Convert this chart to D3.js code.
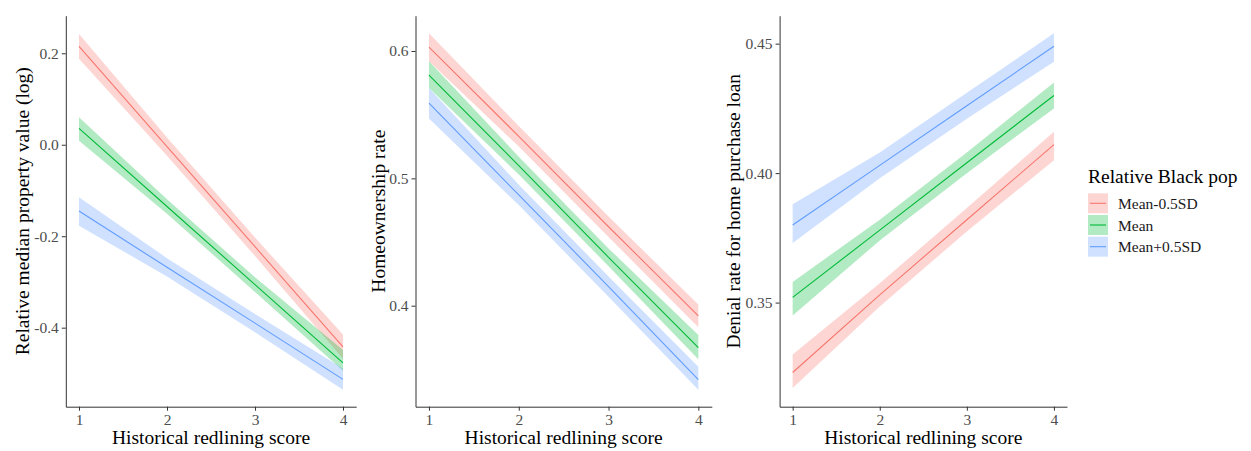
<!DOCTYPE html>
<html>
<head>
<meta charset="utf-8">
<script src="https://cdn.jsdelivr.net/npm/d3@7"></script>
<style>
  body { margin: 0; background: #fff; }
  text { font-family: "Liberation Serif", "DejaVu Serif", serif; }
</style>
</head>
<body>
<div id="chart"></div>
<script>
const width = 1251;
const height = 451;

// Data
const scores = [1, 2, 3, 4];
const groups = ["Mean-0.5SD", "Mean", "Mean+0.5SD"];
const groupColors = ["#F8766D", "#00BA38", "#619CFF"];

// Panel 1: relative median property value (log)
const propertyFit = [
  [0.215, -0.004, -0.223, -0.442],
  [0.036, -0.135, -0.306, -0.477],
  [-0.145, -0.268, -0.390, -0.513]
];
const propertyLow = [
  [0.188, -0.024, -0.243, -0.468],
  [0.009, -0.151, -0.322, -0.494],
  [-0.177, -0.288, -0.410, -0.536]
];
const propertyHigh = [
  [0.242, 0.016, -0.203, -0.415],
  [0.060, -0.119, -0.290, -0.449],
  [-0.115, -0.248, -0.370, -0.489]
];

// Panel 2: homeownership rate
const ownFit = [
  [0.603, 0.533, 0.462, 0.392],
  [0.581, 0.510, 0.438, 0.367],
  [0.559, 0.487, 0.415, 0.342]
];
const ownLow = [
  [0.592, 0.525, 0.454, 0.383],
  [0.571, 0.503, 0.431, 0.358],
  [0.547, 0.479, 0.407, 0.334]
];
const ownHigh = [
  [0.614, 0.541, 0.470, 0.401],
  [0.592, 0.517, 0.445, 0.377],
  [0.571, 0.495, 0.423, 0.352]
];

// Panel 3: denial rate for home purchase loan
const denialFit = [
  [0.323, 0.353, 0.382, 0.411],
  [0.352, 0.378, 0.404, 0.430],
  [0.380, 0.403, 0.426, 0.449]
];
const denialLow = [
  [0.317, 0.3485, 0.3775, 0.405],
  [0.345, 0.374, 0.400, 0.425],
  [0.373, 0.398, 0.421, 0.443]
];
const denialHigh = [
  [0.330, 0.3575, 0.3865, 0.416],
  [0.358, 0.382, 0.408, 0.435],
  [0.388, 0.408, 0.431, 0.454]
];

// Tick labels
const xTicks = [1, 2, 3, 4];
const propertyTicks = [-0.4, -0.2, 0, 0.2];
const propertyTickLabels = ["-0.4", "-0.2", "0.0", "0.2"];
const ownTicks = [0.4, 0.5, 0.6];
const ownTickLabels = ["0.4", "0.5", "0.6"];
const denialTicks = [0.35, 0.40, 0.45];
const denialTickLabels = ["0.35", "0.40", "0.45"];

const panels = [
  { fit: propertyFit, low: propertyLow, high: propertyHigh,
    ticks: propertyTicks, labels: propertyTickLabels,
    yDomain: [-0.5728, 0.2822], xRange: [65.8, 356.2],
    title: "Relative median property value (log)", titleX: 28.5 },
  { fit: ownFit, low: ownLow, high: ownHigh,
    ticks: ownTicks, labels: ownTickLabels,
    yDomain: [0.3207, 0.6277], xRange: [415.5, 711.8],
    title: "Homeownership rate", titleX: 385 },
  { fit: denialFit, low: denialLow, high: denialHigh,
    ticks: denialTicks, labels: denialTickLabels,
    yDomain: [0.3098, 0.4608], xRange: [779.6, 1067],
    title: "Denial rate for home purchase loan", titleX: 740 }
];

const plotTop = 15.7;
const plotBottom = 406.7;

const svg = d3.select("#chart")
  .append("svg")
  .attr("width", width)
  .attr("height", height);

svg.append("rect").attr("width", width).attr("height", height).attr("fill", "#fff");

panels.forEach(p => {
  const x = d3.scaleLinear().domain([0.85, 4.15]).range(p.xRange);
  const y = d3.scaleLinear().domain(p.yDomain).range([plotBottom, plotTop]);

  const g = svg.append("g");

  // Ribbons
  const area = d3.area()
    .x((d, i) => x(scores[i]))
    .y0((d, i) => y(d[0]))
    .y1((d, i) => y(d[1]));

  groups.forEach((grp, gi) => {
    const pts = scores.map((s, i) => [p.low[gi][i], p.high[gi][i]]);
    g.append("path")
      .attr("d", area(pts))
      .attr("fill", groupColors[gi])
      .attr("fill-opacity", 0.3);
  });

  // Fitted lines
  const line = d3.line()
    .x((d, i) => x(scores[i]))
    .y(d => y(d));

  groups.forEach((grp, gi) => {
    g.append("path")
      .attr("d", line(p.fit[gi]))
      .attr("fill", "none")
      .attr("stroke", groupColors[gi])
      .attr("stroke-width", 1.1);
  });

  // Axes
  const xAxis = g.append("g")
    .attr("transform", `translate(0,${plotBottom})`)
    .call(d3.axisBottom(x).tickValues(xTicks).tickFormat(d3.format("d"))
      .tickSize(4).tickSizeOuter(0).tickPadding(3));

  const yAxis = g.append("g")
    .attr("transform", `translate(${p.xRange[0]},0)`)
    .call(d3.axisLeft(y).tickValues(p.ticks).tickFormat((d, i) => p.labels[i])
      .tickSize(4).tickSizeOuter(0).tickPadding(3));

  [xAxis, yAxis].forEach(a => {
    a.select(".domain").attr("stroke", "#333");
    a.selectAll(".tick line").attr("stroke", "#333");
    a.selectAll(".tick text")
      .attr("fill", "#4d4d4d")
      .style("font-size", "15.5px")
      .style("font-family", "'Liberation Serif', serif");
  });

  // Axis titles
  g.append("text")
    .attr("x", (p.xRange[0] + p.xRange[1]) / 2)
    .attr("y", 444)
    .attr("text-anchor", "middle")
    .style("font-size", "19.5px")
    .attr("fill", "#000")
    .text("Historical redlining score");

  g.append("text")
    .attr("transform", `translate(${p.titleX},${(plotTop + plotBottom) / 2}) rotate(-90)`)
    .attr("text-anchor", "middle")
    .style("font-size", "19.5px")
    .attr("fill", "#000")
    .text(p.title);
});

// Legend
const legend = svg.append("g").attr("transform", "translate(1088,0)");

legend.append("text")
  .attr("x", 0)
  .attr("y", 183)
  .style("font-size", "19.5px")
  .attr("fill", "#000")
  .text("Relative Black pop");

const legendItem = legend.selectAll(".legend-item")
  .data(groups)
  .enter()
  .append("g")
  .attr("class", "legend-item")
  .attr("transform", (d, i) => `translate(0,${193.3 + i * 21.7})`);

legendItem.append("rect")
  .attr("width", 20)
  .attr("height", 20)
  .attr("fill", (d, i) => groupColors[i])
  .attr("fill-opacity", 0.3);

legendItem.append("line")
  .attr("x1", 2)
  .attr("x2", 18)
  .attr("y1", 10)
  .attr("y2", 10)
  .attr("stroke", (d, i) => groupColors[i])
  .attr("stroke-width", 1.1);

legendItem.append("text")
  .attr("x", 30)
  .attr("y", 15.5)
  .style("font-size", "15.5px")
  .attr("fill", "#1a1a1a")
  .text(d => d);
</script>
</body>
</html>
